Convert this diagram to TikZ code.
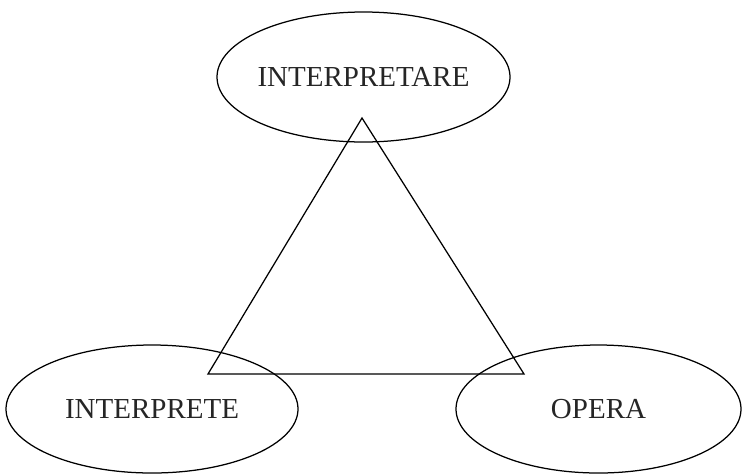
\documentclass[tikz,border=0pt]{standalone}
\usepackage{fontspec}
\setmainfont{Liberation Serif}
\usetikzlibrary{shapes.geometric}
\begin{document}
\begin{tikzpicture}[x=1pt,y=-1pt,
  oval/.style={draw=black,line width=1.25pt,ellipse,inner sep=0pt},
  lab/.style={inner sep=0pt,font=\fontsize{29}{32}\selectfont,text=black!85}]
\useasboundingbox (0,0) rectangle (743,475);
\node[oval,minimum width=293pt,minimum height=130pt] (interpretare) at (363.5,77) {};
\node[oval,minimum width=292pt,minimum height=128pt] (interprete) at (152,409) {};
\node[oval,minimum width=285pt,minimum height=128pt] (opera) at (598.5,409) {};
\node[lab] (t1) at (interpretare) {INTERPRETARE};
\node[lab] (t2) at (interprete) {INTERPRETE};
\node[lab] (t3) at (opera) {OPERA};
\coordinate (apex) at (362,118);
\coordinate (bl) at (208,374);
\coordinate (br) at (524,374);
\draw[line width=1.25pt,line join=miter] (apex) -- (bl) -- (br) -- cycle;
\end{tikzpicture}
\end{document}
